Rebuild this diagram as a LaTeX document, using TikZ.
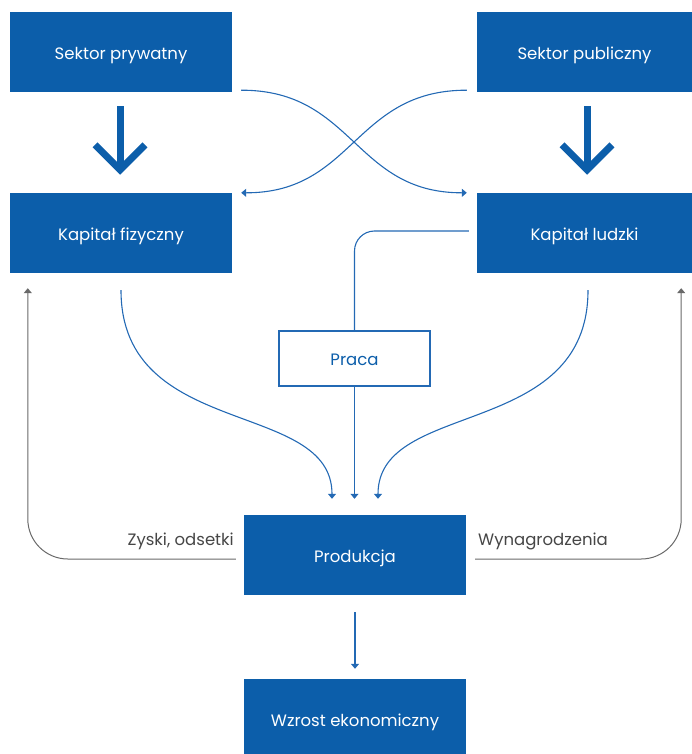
\documentclass[tikz,border=0pt]{standalone}
\usepackage{fontspec}
\setmainfont{Poppins}
\usetikzlibrary{arrows.meta,calc}
\definecolor{boxblue}{RGB}{12,94,170}
\definecolor{lineblue}{RGB}{35,105,180}
\definecolor{greyline}{RGB}{105,105,105}
\definecolor{greytext}{RGB}{70,70,70}
\begin{document}
\begin{tikzpicture}[x=1pt,y=-1pt,
  box/.style={fill=boxblue, draw=none, text=white, font=\fontsize{16.5}{19}\selectfont, inner sep=0pt, minimum height=80pt, text height=15pt, text depth=0pt},
  outbox/.style={fill=white, draw=lineblue, line width=1.2pt, text=boxblue, font=\fontsize{16.5}{19}\selectfont, inner sep=0pt, text height=13pt, text depth=0pt},
  flow/.style={draw=lineblue, line width=1.1pt},
  tip/.style={-{Triangle[width=8pt,length=5pt]}},
  back/.style={draw=greyline, line width=1pt},
  lbl/.style={text=greytext, font=\fontsize{16.5}{19}\selectfont, inner sep=0pt},
  bigarrow/.style={draw=boxblue, line width=7pt}]
\useasboundingbox (0,0) rectangle (692,754);
\node[box, minimum width=222pt] (sp) at (121,52) {Sektor prywatny};
\node[box, minimum width=215pt] (spub) at (584.5,52) {Sektor publiczny};
\node[box, minimum width=222pt] (kf) at (121,233) {Kapitał fizyczny};
\node[box, minimum width=215pt] (kl) at (584.5,233) {Kapitał ludzki};
\node[outbox, minimum width=151pt, minimum height=55pt] (praca) at (354.5,358.5) {Praca};
\node[box, minimum width=222pt] (prod) at (355,555) {Produkcja};
\node[box, minimum width=222pt] (wz) at (355,719) {Wzrost ekonomiczny};

% big arrows
\coordinate (a1s) at ($(sp.south)+(-1,14)$);
\coordinate (a1e) at ($(kf.north)+(-1,-23)$);
\draw[bigarrow] (a1s) -- (a1e);
\draw[bigarrow, miter limit=10] ($(a1e)+(-25,-25)$) -- (a1e) -- ($(a1e)+(25,-25)$);
\coordinate (a2s) at ($(spub.south)+(2.5,14)$);
\coordinate (a2e) at ($(kl.north)+(2.5,-23)$);
\draw[bigarrow] (a2s) -- (a2e);
\draw[bigarrow, miter limit=10] ($(a2e)+(-25,-25)$) -- (a2e) -- ($(a2e)+(25,-25)$);

% crossing
\draw[flow, tip] ($(sp.south east)+(9,-2)$) .. controls (354,90) and (354,193) .. ($(kl.north west)+(-10,0)$);
\draw[flow, tip] ($(spub.south west)+(-10,-2)$) .. controls (354,90) and (354,193) .. ($(kf.north east)+(9,0)$);

% kapital ludzki -> praca
\draw[flow, rounded corners=20pt] ($(kl.west)+(-8,-2)$) -| (praca.north);
\draw[flow, tip] (praca.south) -- ($(praca.south |- prod.north)+(0,-16)$);

% curves into produkcja
\draw[flow, tip] ($(kf.south)+(0,17)$) .. controls +(0,150) and +(0,-100) .. ($(prod.north)+(-23,-16)$);
\draw[flow, tip] ($(kl.south)+(3.5,17)$) .. controls +(0,150) and +(0,-100) .. ($(prod.north)+(23,-16)$);

% feedback
\draw[back, tip, rounded corners=40pt] ($(prod.west)+(-8,4)$) -| ($(kf.south west)+(18,15)$);
\draw[back, tip, rounded corners=40pt] ($(prod.east)+(9,4)$) -| ($(kl.south east)+(-11,15)$);
\node[lbl, anchor=base east] (zy) at (234,545) {Zyski, odsetki};
\node[lbl, anchor=base west] (wy) at (478,545) {Wynagrodzenia};

% produkcja -> wzrost
\draw[flow, tip] ($(prod.south)+(0,17)$) -- ($(wz.north)+(0,-10)$);
\end{tikzpicture}
\end{document}
